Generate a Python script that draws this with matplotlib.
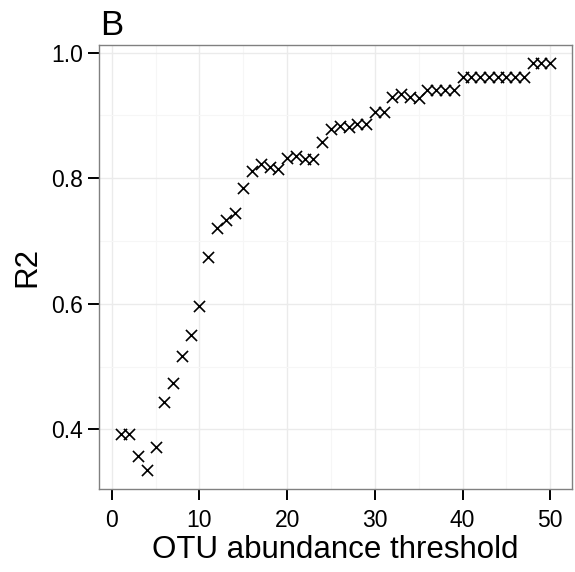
import numpy as np
import matplotlib
matplotlib.use("Agg")
import matplotlib.pyplot as plt
from matplotlib.ticker import MultipleLocator

plt.rcParams['font.family'] = ['Liberation Sans', 'DejaVu Sans']

# R2 per OTU abundance threshold
threshold = np.arange(1, 51)
r2 = [0.392, 0.392, 0.357, 0.335, 0.371, 0.443, 0.473, 0.517, 0.550, 0.597,
      0.675, 0.720, 0.734, 0.745, 0.784, 0.811, 0.823, 0.818, 0.814, 0.832,
      0.836, 0.831, 0.831, 0.858, 0.879, 0.884, 0.882, 0.886, 0.887, 0.905,
      0.905, 0.930, 0.934, 0.930, 0.928, 0.940, 0.940, 0.940, 0.941, 0.962,
      0.961, 0.961, 0.961, 0.961, 0.961, 0.961, 0.961, 0.983, 0.983, 0.983]

fig = plt.figure(figsize=(5.75, 5.72), dpi=100)
ax = fig.add_axes([0.1722, 0.1446, 0.8221, 0.7767])

ax.scatter(threshold, r2, marker='x', s=64, linewidths=1.2, color='black', zorder=3)

ax.set_xlim(-1.45, 52.45)
ax.set_ylim(0.3044, 1.0123)

ax.xaxis.set_major_locator(MultipleLocator(10))
ax.xaxis.set_minor_locator(MultipleLocator(5))
ax.yaxis.set_minor_locator(MultipleLocator(0.1))
ax.set_yticks([0.4, 0.6, 0.8, 1.0])
ax.set_yticklabels(['0.4', '0.6', '0.8', '1.0'])

ax.grid(which='major', color='#ebebeb', linewidth=1.0, zorder=0)
ax.grid(which='minor', color='#f6f6f6', linewidth=0.8, zorder=0)
ax.set_axisbelow(True)

for s in ax.spines.values():
    s.set_color('#808080')
    s.set_linewidth(1.0)

ax.tick_params(which='major', length=8, width=1.4, color='black',
               labelsize=16.5, labelcolor='black')
ax.tick_params(axis='x', pad=6)
ax.tick_params(axis='y', pad=3.6)
ax.tick_params(which='minor', length=0)

ax.set_xlabel('OTU abundance threshold', fontsize=22.5, labelpad=2)
ax.set_ylabel('R2', fontsize=22.5, labelpad=6)

fig.text(100 / 575, 1 - 35 / 572, 'B', fontsize=25, ha='left', va='baseline')

fig.savefig('out.png', dpi=100)
